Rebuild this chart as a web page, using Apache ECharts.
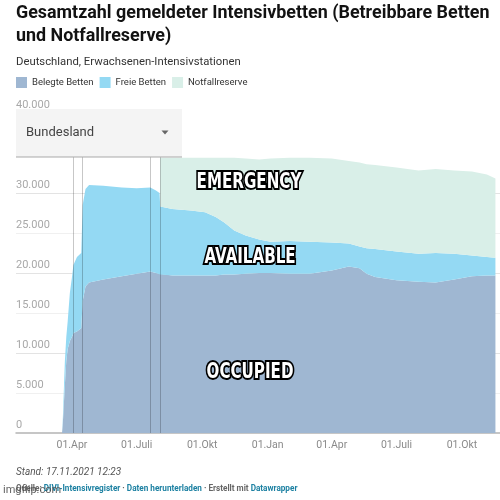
<!DOCTYPE html>
<html>
<head>
<meta charset="utf-8">
<script src="https://cdn.jsdelivr.net/npm/echarts@6/dist/echarts.min.js"></script>
<style>
  html, body { margin: 0; padding: 0; background: #fff; }
  #chart { width: 500px; height: 500px; }
</style>
</head>
<body>
<div id="chart"></div>
<script>
// ---- data ----
const dates = [
  '2020-03-18','2020-03-19','2020-03-22','2020-03-24','2020-03-26','2020-03-29',
  '2020-04-01','2020-04-03','2020-04-08','2020-04-14','2020-04-16','2020-04-20',
  '2020-04-25','2020-05-15','2020-06-10','2020-07-01','2020-07-20','2020-07-28',
  '2020-08-02','2020-08-03','2020-08-20','2020-09-15','2020-10-05','2020-10-20',
  '2020-11-01','2020-11-15','2020-12-01','2020-12-20','2021-01-05','2021-02-01',
  '2021-03-01','2021-04-01','2021-04-25','2021-05-10','2021-05-20','2021-06-01',
  '2021-07-01','2021-08-01','2021-08-25','2021-09-20','2021-10-15','2021-11-05',
  '2021-11-17'
];
const belegteBetten = [
  0, 1000, 6000, 9000, 10500, 11500,
  12000, 12500, 12700, 13100, 16500, 18300,
  18800, 19200, 19600, 19900, 20200, 20000,
  19900, 19800, 19700, 19700, 19700, 19700,
  19800, 19800, 19900, 20000, 20000, 19900,
  19900, 20300, 20800, 20600, 19900, 19500,
  19100, 18900, 18800, 19200, 19600, 19700,
  19700
];
const freieBetten = [
  0, 500, 3000, 3000, 3500, 6000,
  7500, 8500, 9300, 9400, 12000, 12200,
  12200, 11700, 11100, 10700, 10500, 10300,
  10100, 8500, 8300, 8100, 7900, 7300,
  6500, 5500, 4800, 4200, 3900, 4100,
  4000, 3500, 2900, 2700, 3200, 3500,
  3600, 3500, 3700, 3200, 2600, 2300,
  2200
];
const notfallreserve = [
  null, null, null, null, null, null,
  null, null, null, null, null, null,
  null, null, null, null, null, null,
  null, 6100, 6400, 6600, 6800, 7400,
  8100, 9100, 9600, 10000, 10400, 10400,
  10500, 10500, 10300, 10500, 10500, 10500,
  10500, 10400, 10500, 10400, 10500, 10300,
  9900
];
const seriesNames = ['Belegte Betten', 'Freie Betten', 'Notfallreserve'];
const xTickDates = ['2020-04-01','2020-07-01','2020-10-01','2021-01-01','2021-04-01','2021-07-01','2021-10-01'];
const monthNames = ['Jan','Feb','Mär','Apr','Mai','Juni','Juli','Aug','Sep','Okt','Nov','Dez'];
const markerDates = ['2020-04-03','2020-04-16','2020-07-20','2020-08-03'];
const memeTexts = ['EMERGENCY', 'AVAILABLE', 'OCCUPIED'];

// ---- chart ----
const toTs = s => new Date(s + 'T00:00:00').getTime();
const pair = arr => dates.map((d, i) => [toTs(d), arr[i] == null ? '-' : arr[i]]);
const fmtNum = v => String(v).replace(/\B(?=(\d{3})+(?!\d))/g, '.');
const colors = ['#9fb7d2', '#94d9f3', '#d9efe8'];
const FONT = 'Roboto, "Noto Sans", sans-serif';
const X_MIN = toTs('2020-01-13') + 8 * 3600e3;
const X_MAX = toTs('2021-11-23') + 10 * 3600e3;

const chart = echarts.init(document.getElementById('chart'), null, { renderer: 'canvas' });

const meme = (text, cx, cy) => ({
  type: 'text', z: 120, x: cx, y: cy, scaleX: 0.8, scaleY: 1,
  style: {
    text: text, align: 'center', verticalAlign: 'middle',
    font: 'bold 21px "DejaVu Sans Condensed", "DejaVu Sans", sans-serif',
    fill: '#ffffff', stroke: '#000000', lineWidth: 4,
    shadowColor: 'rgba(0,0,0,0.9)', shadowBlur: 4
  }
});

const option = {
  animation: false,
  backgroundColor: '#ffffff',
  color: colors,
  title: [
    { text: 'Gesamtzahl gemeldeter Intensivbetten (Betreibbare Betten\nund Notfallreserve)',
      left: 16, top: 2, padding: 0,
      textStyle: { fontFamily: FONT, fontSize: 17.9, fontWeight: 'bold', color: '#121212', lineHeight: 23 } },
    { text: 'Deutschland, Erwachsenen-Intensivstationen', left: 16, top: 55, padding: 0,
      textStyle: { fontFamily: FONT, fontSize: 11.3, fontWeight: 'normal', color: '#333333', lineHeight: 14 } },
    { text: 'Stand: 17.11.2021 12:23', left: 16, top: 466, padding: 0,
      textStyle: { fontFamily: FONT, fontSize: 10, fontStyle: 'italic', fontWeight: 'normal', color: '#555555', lineHeight: 13 } },
    { text: '{g|Quelle: }{b|DIVI-Intensivregister}{g| · }{b|Daten herunterladen}{g| · Erstellt mit }{b|Datawrapper}',
      left: 16, top: 483, padding: 0,
      textStyle: { fontFamily: FONT, fontSize: 8.2, lineHeight: 12,
        rich: {
          g: { fontFamily: FONT, fontSize: 8.2, color: '#666666' },
          b: { fontFamily: FONT, fontSize: 8.2, color: '#1d81a2' }
        } } },
    { text: 'imgflip.com', left: 3, top: 484, padding: 0,
      textStyle: { fontFamily: FONT, fontSize: 11, fontWeight: 'normal', color: 'rgba(70,70,70,0.85)', lineHeight: 13 } }
  ],
  legend: {
    left: 16, top: 77, padding: 0, itemGap: 6, itemWidth: 11, itemHeight: 11,
    icon: 'rect', selectedMode: false,
    data: seriesNames,
    textStyle: { fontFamily: FONT, fontSize: 9.5, color: '#333333' }
  },
  grid: { left: 16, right: 0, top: 113, bottom: 67, containLabel: false },
  xAxis: [
    {
      type: 'time', min: X_MIN, max: X_MAX,
      axisLine: { show: true, lineStyle: { color: '#b4b4b4', width: 1.5 } },
      axisTick: { show: false }, splitLine: { show: false },
      axisLabel: { show: false }
    },
    {
      type: 'value', min: X_MIN, max: X_MAX, position: 'bottom',
      axisLine: { show: false }, axisTick: { show: false }, splitLine: { show: false },
      axisLabel: {
        customValues: xTickDates.map(toTs),
        formatter: v => { const d = new Date(v); return '01.' + monthNames[d.getMonth()]; },
        color: '#8a8a8a', fontSize: 10.5, fontFamily: FONT, margin: 7, hideOverlap: false
      }
    }
  ],
  yAxis: {
    type: 'value', min: 0, max: 40000, interval: 5000, z: 3,
    axisLine: { show: false }, axisTick: { show: false },
    axisLabel: {
      inside: true, margin: 0, verticalAlign: 'bottom', padding: [0, 0, 2, 0],
      color: '#a8a8a8', fontSize: 11, fontFamily: FONT, formatter: fmtNum
    },
    splitLine: { show: true, lineStyle: { width: 1, color: [
      'rgba(0,0,0,0)', 'rgba(0,0,0,0.06)', 'rgba(0,0,0,0.11)', 'rgba(0,0,0,0.06)',
      'rgba(0,0,0,0.11)', 'rgba(0,0,0,0.06)', 'rgba(0,0,0,0.11)', 'rgba(0,0,0,0)', 'rgba(0,0,0,0)'
    ] } }
  },
  series: [
    { name: seriesNames[0], type: 'line', stack: 'beds', xAxisIndex: 0, data: pair(belegteBetten),
      symbol: 'none', lineStyle: { width: 0 }, areaStyle: { opacity: 1, color: colors[0] } },
    { name: seriesNames[1], type: 'line', stack: 'beds', xAxisIndex: 0, data: pair(freieBetten),
      symbol: 'none', lineStyle: { width: 0 }, areaStyle: { opacity: 1, color: colors[1] } },
    { name: seriesNames[2], type: 'line', stack: 'beds', xAxisIndex: 0, data: pair(notfallreserve),
      symbol: 'none', lineStyle: { width: 0 }, areaStyle: { opacity: 1, color: colors[2] },
      markLine: {
        silent: true, symbol: 'none', label: { show: false },
        lineStyle: { type: 'solid', color: 'rgba(0,0,0,0.22)', width: 1 },
        data: markerDates.map(d => ({ xAxis: toTs(d) }))
      } }
  ],
  graphic: [
    { type: 'rect', z: 100, shape: { x: 16, y: 109, width: 166, height: 48 },
      style: { fill: '#f4f4f4' } },
    { type: 'line', z: 101, shape: { x1: 16, y1: 157, x2: 182, y2: 157 },
      style: { stroke: '#a9a9a9', lineWidth: 1 } },
    { type: 'text', z: 101, x: 26, y: 133,
      style: { text: 'Bundesland', fill: '#444444', font: '13px Roboto, sans-serif', verticalAlign: 'middle', align: 'left' } },
    { type: 'polygon', z: 101, shape: { points: [[161.5, 130.5], [168.5, 130.5], [165, 134.5]] },
      style: { fill: '#666666' } },
    meme(memeTexts[0], 249, 183),
    meme(memeTexts[1], 250, 258),
    meme(memeTexts[2], 250, 373)
  ]
};
chart.setOption(option);
</script>
</body>
</html>
